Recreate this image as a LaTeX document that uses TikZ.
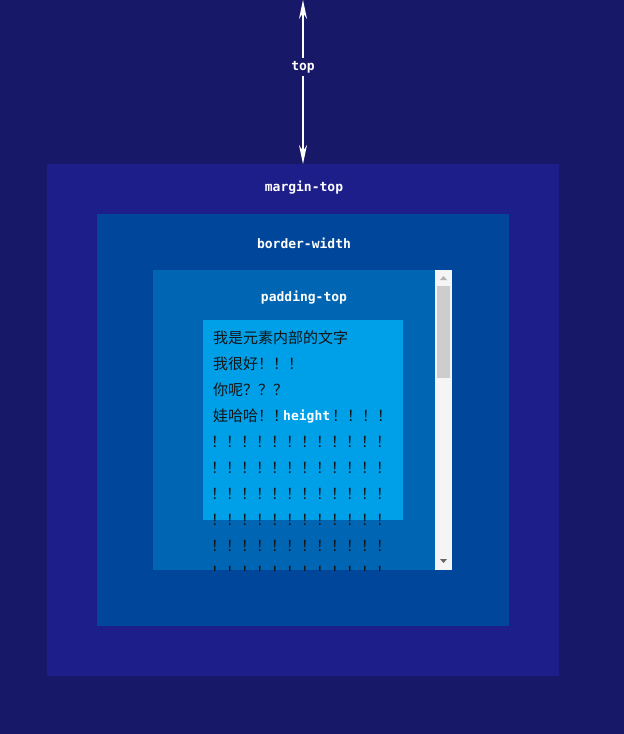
\documentclass[tikz,border=0pt]{standalone}
\usepackage{fontspec}
\newfontfamily\cjkfont{Noto Sans CJK SC}
\newfontfamily\monofont{DejaVu Sans Mono}
\usetikzlibrary{arrows.meta}
\definecolor{bgcol}{RGB}{24,24,104}
\definecolor{margincol}{RGB}{30,30,138}
\definecolor{bordercol}{RGB}{0,71,155}
\definecolor{paddingcol}{RGB}{0,102,180}
\definecolor{contentcol}{RGB}{0,160,233}
\definecolor{trackcol}{RGB}{245,245,245}
\definecolor{thumbcol}{RGB}{205,205,205}
\definecolor{textcol}{RGB}{20,20,20}
\tikzset{
  boxarea/.style={draw=none, inner sep=0pt, outer sep=0pt},
  lbl/.style={text=white, font=\monofont\bfseries\fontsize{13}{13}\selectfont, inner sep=0pt},
  rowtxt/.style={anchor=base west, inner sep=0pt, text=textcol, font=\cjkfont\fontsize{15}{15}\selectfont},
  dimarrow/.style={white, line width=1.3pt, {Stealth[length=19pt,width=8pt]}-{Stealth[length=19pt,width=8pt]}}
}
\begin{document}
\begin{tikzpicture}[x=1pt,y=-1pt]
\fill[bgcol] (0,0) rectangle (624,734);
\useasboundingbox (0,0) rectangle (624,734);
% boxes
\node[boxarea, fill=margincol, minimum width=512pt, minimum height=512pt] (margin) at (303,420) {};
\node[boxarea, fill=bordercol, minimum width=412pt, minimum height=412pt] (border) at (303,420) {};
\node[boxarea, fill=paddingcol, minimum width=299pt, minimum height=300pt] (padding) at (302.5,420) {};
\node[boxarea, fill=contentcol, minimum width=200pt, minimum height=200pt] (content) at (303,420) {};
% scrollbar
\node[boxarea, fill=trackcol, minimum width=17pt, minimum height=300pt] (track) at (443.5,420) {};
\node[boxarea, fill=thumbcol, minimum width=13pt, minimum height=92pt] (thumb) at (443.5,332) {};
\fill[gray!60] (440,280) -- (447,280) -- (443.5,276) -- cycle;
\fill[gray!80!black] (440,559) -- (447,559) -- (443.5,563) -- cycle;
% labels
\node[lbl] (lmargin) at (304,188) {margin-top};
\node[lbl] (lborder) at (304,243) {border-width};
\node[lbl] (lpadding) at (304,298) {padding-top};
% top arrow
\coordinate (atop) at (303,0);
\draw[dimarrow] (atop) -- (margin.north);
\node[lbl, fill=bgcol, inner sep=3pt] (ltop) at (303,67) {top};
% text
\begin{scope}
\clip (153,270) rectangle (435,570);
\node[rowtxt] (r1) at (213,343) {我是元素内部的文字};
\node[rowtxt] (r2) at (213,369) {我很好！！！};
\node[rowtxt] (r3) at (213,395) {你呢？？？};
\node[rowtxt] (r4a) at (213,421) {娃哈哈！\makebox[6pt][l]{！}};
\node[lbl, anchor=base west] (r4h) at (283,420) {height};
\node[rowtxt] (r4b) at (332,421) {！！！！};
\foreach \i [count=\k] in {447,473,499,525,551,577} {
  \node[rowtxt] (rr\k) at (211,\i) {！！！！！！！！！！！！};
}
\end{scope}
\end{tikzpicture}
\end{document}
